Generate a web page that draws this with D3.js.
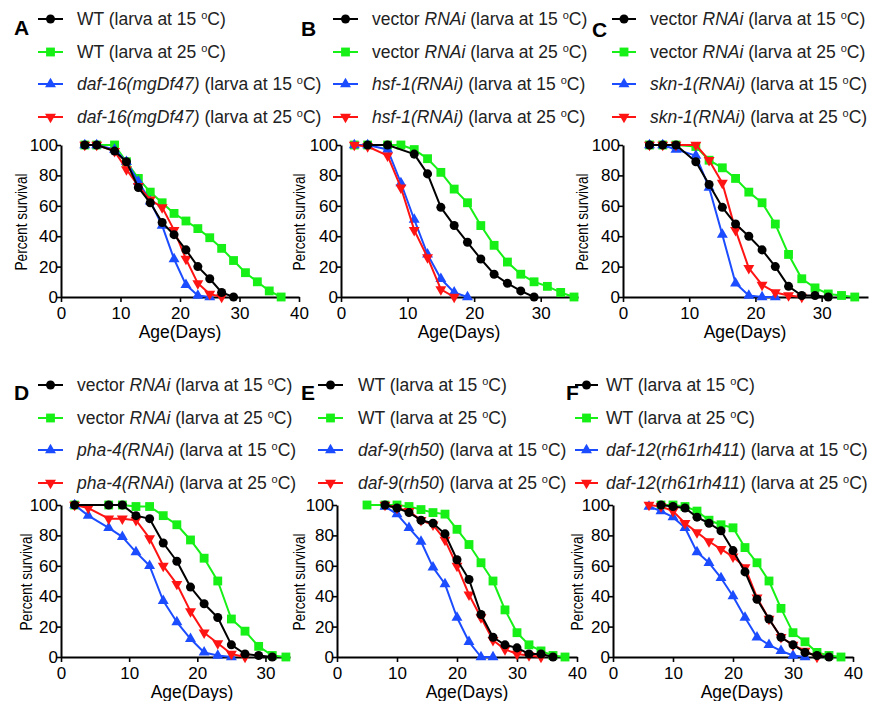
<!DOCTYPE html>
<html>
<head>
<meta charset="utf-8">
<script src="https://cdn.jsdelivr.net/npm/d3@7"></script>
<style>
  body { margin: 0; background: #fff; }
  svg text { font-family: "Liberation Sans", Arial, sans-serif; }
</style>
</head>
<body>
<svg id="chart" width="872" height="701"></svg>
<script>
// survival curves, [day, percent survival]
const A_black = [[4,100],[6,100],[9,96],[11,89],[13,72],[15,62],[17,49],[19,41],[21,31],[23,20],[25,12],[27,3],[29,0]];
const A_green = [[4,100],[6,100],[9,100],[11,89],[13,78],[15,69],[17,62],[19,55],[21,50],[23,45],[25,39],[27,32],[29,24],[31,16],[33,10],[35,4],[37,0]];
const A_blue  = [[4,100],[6,100],[9,97],[11,89],[13,76],[15,63],[17,47],[19,25],[21,8],[23,1],[25,0]];
const A_red   = [[4,100],[6,100],[9,96],[11,84],[13,73],[15,64],[17,59],[19,44],[21,25],[23,9],[25,2],[27,0]];

const B_black = [[4,100],[7,100],[11,94],[13,81],[15,59],[17,47],[19,36],[21,25],[23,15],[25,9],[27,4],[29,0]];
const B_green = [[2,100],[4,100],[7,100],[9,100],[11,97],[13,91],[15,82],[17,71],[19,62],[21,47],[23,34],[25,23],[27,15],[29,10],[31,7],[33,3],[35,0]];
const B_blue  = [[2,100],[4,100],[7,97],[9,75],[11,51],[13,28],[15,12],[17,3],[19,0]];
const B_red   = [[2,100],[4,99],[7,93],[9,72],[11,44],[13,26],[15,5],[17,0]];

const C_black = [[4,100],[6,100],[8,100],[11,89],[13,74],[15,59],[17,48],[19,40],[21,31],[23,20],[25,7],[27,1],[29,1],[31,0]];
const C_green = [[4,100],[6,100],[8,100],[11,99],[13,90],[15,85],[17,78],[19,69],[21,62],[23,48],[25,28],[27,12],[29,6],[31,2],[33,1],[35,0]];
const C_blue  = [[4,100],[6,100],[8,97],[11,93],[13,72],[15,41],[17,9],[19,1],[21,0],[23,0]];
const C_red   = [[4,100],[6,100],[8,100],[11,100],[13,90],[15,75],[17,44],[19,19],[21,8],[23,3],[25,1],[27,0]];

const D_black = [[2,100],[7,100],[9,100],[11,93],[13,91],[15,75],[17,63],[19,46],[21,35],[23,26],[25,8],[27,2],[29,1],[31,0]];
const D_green = [[2,100],[7,100],[9,100],[11,99],[13,99],[15,93],[17,87],[19,77],[21,65],[23,50],[25,25],[27,17],[29,7],[31,1],[33,0]];
const D_blue  = [[2,100],[4,93],[7,85],[9,79],[11,69],[13,60],[15,37],[17,23],[19,12],[21,3],[23,1],[25,0]];
const D_red   = [[2,100],[4,98],[7,91],[9,91],[11,90],[13,78],[15,60],[17,48],[19,30],[21,16],[23,9],[25,2],[27,0]];

const E_black = [[8,100],[10,98],[12,95],[14,90],[16,88],[18,81],[20,64],[22,51],[24,28],[26,13],[28,8],[30,6],[32,2],[34,2],[36,0]];
const E_green = [[5,100],[8,100],[10,100],[12,99],[14,97],[16,95],[18,94],[20,84],[22,74],[24,62],[26,50],[28,31],[30,16],[32,8],[34,4],[36,1],[38,0]];
const E_blue  = [[8,99],[10,94],[12,85],[14,76],[16,59],[18,48],[20,26],[22,10],[24,0],[26,0]];
const E_red   = [[8,100],[10,98],[12,96],[14,90],[16,87],[18,77],[20,60],[22,41],[24,26],[26,11],[28,5],[30,2],[32,1],[34,0]];

const F_black = [[8,100],[10,99],[12,98],[14,92],[16,88],[18,83],[20,70],[22,56],[24,38],[26,25],[28,13],[30,8],[32,3],[34,1],[36,0]];
const F_green = [[8,100],[10,100],[12,99],[14,96],[16,90],[18,87],[20,85],[22,72],[24,62],[26,50],[28,32],[30,16],[32,10],[34,3],[36,1],[38,0]];
const F_blue  = [[6,99],[8,96],[10,92],[12,85],[14,69],[16,62],[18,52],[20,40],[22,26],[24,13],[26,8],[28,4],[30,1],[32,0]];
const F_red   = [[6,100],[8,99],[10,96],[12,88],[14,82],[16,76],[18,71],[20,66],[22,59],[24,39],[26,25],[28,13],[30,8],[32,4],[34,0]];

// legend names: [text, italic]
const wt      = [["WT",0]];
const vector  = [["vector ",0],["RNAi",1]];
const A_names = [wt, wt, [["daf-16(mgDf47)",1]], [["daf-16(mgDf47)",1]]];
const B_names = [vector, vector, [["hsf-1(RNAi)",1]], [["hsf-1(RNAi)",1]]];
const C_names = [vector, vector, [["skn-1(RNAi)",1]], [["skn-1(RNAi)",1]]];
const D_names = [vector, vector, [["pha-4(RNAi",1],[")",0]], [["pha-4(RNAi",1],[")",0]]];
const E_names = [wt, wt, [["daf-9",1],["(",0],["rh50",1],[")",0]], [["daf-9",1],["(",0],["rh50",1],[")",0]]];
const F_names = [wt, wt, [["daf-12",1],["(",0],["rh61rh411",1],[")",0]], [["daf-12",1],["(",0],["rh61rh411",1],[")",0]]];
const temps   = [15, 25, 15, 25];

const yTicks = [0, 20, 40, 60, 80, 100];

const colors  = ["#000000", "#16f016", "#1c4cff", "#ff1414"];
const symbols = [d3.symbolCircle, d3.symbolSquare, d3.symbolTriangle, d3.symbolTriangle];
const symSize = [64, 78, 52, 52];
const rot     = [0, 0, 0, 180];

const svg = d3.select("#chart");

const panels = [
  {id:"A", data:[A_black,A_green,A_blue,A_red], names:A_names, xr:[61,299], xmax:40, xt:[0,10,20,30,40], top:true,
   letter:[14,35], sym:[38,63], tx:77, ytitle:27, age:180},
  {id:"B", data:[B_black,B_green,B_blue,B_red], names:B_names, xr:[341,578], xmax:35.6, xt:[0,10,20,30], top:true,
   letter:[301,36], sym:[333,358], tx:372, ytitle:305, age:459},
  {id:"C", data:[C_black,C_green,C_blue,C_red], names:C_names, xr:[623,868], xmax:37, xt:[0,10,20,30], top:true,
   letter:[592,37], sym:[612,636], tx:650, ytitle:588, age:745},
  {id:"D", data:[D_black,D_green,D_blue,D_red], names:D_names, xr:[61,290], xmax:33.6, xt:[0,10,20,30], top:false,
   letter:[14,400], sym:[38,63], tx:77, ytitle:32, age:192},
  {id:"E", data:[E_black,E_green,E_blue,E_red], names:E_names, xr:[337,577], xmax:40, xt:[0,10,20,30,40], top:false,
   letter:[301,400], sym:[318,343], tx:358, ytitle:305, age:467},
  {id:"F", data:[F_black,F_green,F_blue,F_red], names:F_names, xr:[613,853], xmax:40, xt:[0,10,20,30,40], top:false,
   letter:[566,400], sym:[575,598], tx:606, ytitle:583, age:742}
];

panels.forEach(p => {
  const g = svg.append("g");
  const y = d3.scaleLinear().domain([0,100]).range(p.top ? [297,145] : [657,505]);
  const x = d3.scaleLinear().domain([0,p.xmax]).range(p.xr);
  const rowY = p.top ? [19,52,84,117] : [385,418,450,483];

  // axes
  const xa = g.append("g").attr("transform", `translate(0,${y(0)})`)
    .call(d3.axisBottom(x).tickValues(p.xt).tickSize(5).tickSizeOuter(0).tickPadding(5));
  const ya = g.append("g").attr("transform", `translate(${p.xr[0]},0)`)
    .call(d3.axisLeft(y).tickValues(yTicks).tickSize(4).tickSizeOuter(0).tickPadding(-1));
  [xa, ya].forEach(a => {
    a.select(".domain").attr("stroke-width", 2).attr("stroke", "#000");
    a.selectAll(".tick line").attr("stroke-width", 1.6).attr("stroke", "#000");
    a.selectAll(".tick text").attr("font-size", 17).attr("fill", "#000")
      .attr("font-family", "Liberation Sans, Arial, sans-serif");
  });

  // axis titles
  g.append("text")
    .attr("transform", `translate(${p.ytitle},${(y(0)+y(100))/2 + 1}) rotate(-90)`)
    .attr("text-anchor", "middle").attr("font-size", 16)
    .attr("textLength", 97).attr("lengthAdjust", "spacingAndGlyphs")
    .text("Percent survival");
  g.append("text")
    .attr("x", p.age).attr("y", y(0) + 41)
    .attr("text-anchor", "middle").attr("font-size", 17.5)
    .text("Age(Days)");

  // series, drawn so that black ends on top
  const line = d3.line().x(d => x(d[0])).y(d => y(d[1]));
  [1,2,3,0].forEach(i => {
    g.append("path").datum(p.data[i])
      .attr("fill", "none").attr("stroke", colors[i]).attr("stroke-width", 2)
      .attr("stroke-linejoin", "round").attr("d", line);
    g.selectAll(null).data(p.data[i]).join("path")
      .attr("transform", d => `translate(${x(d[0])},${y(d[1])}) rotate(${rot[i]})`)
      .attr("d", d3.symbol(symbols[i], symSize[i]))
      .attr("fill", colors[i]);
  });

  // panel letter
  g.append("text").attr("x", p.letter[0]).attr("y", p.letter[1])
    .attr("font-size", 21).attr("font-weight", "bold").text(p.id);

  // legend
  p.names.forEach((segs, i) => {
    const ry = rowY[i];
    g.append("line").attr("x1", p.sym[0]).attr("x2", p.sym[1]).attr("y1", ry).attr("y2", ry)
      .attr("stroke", colors[i]).attr("stroke-width", 2);
    g.append("path")
      .attr("transform", `translate(${(p.sym[0]+p.sym[1])/2},${ry}) rotate(${rot[i]})`)
      .attr("d", d3.symbol(symbols[i], symSize[i]))
      .attr("fill", colors[i]);
    const t = g.append("text").attr("x", p.tx).attr("y", ry + 6)
      .attr("font-size", 17.5).attr("fill", "#222");
    segs.forEach(s => t.append("tspan").attr("font-style", s[1] ? "italic" : "normal").text(s[0]));
    t.append("tspan").text(` (larva at ${temps[i]} `);
    t.append("tspan").attr("font-size", 11).attr("dy", -6).text("o");
    t.append("tspan").attr("dy", 6).text("C)");
  });
});
</script>
</body>
</html>
